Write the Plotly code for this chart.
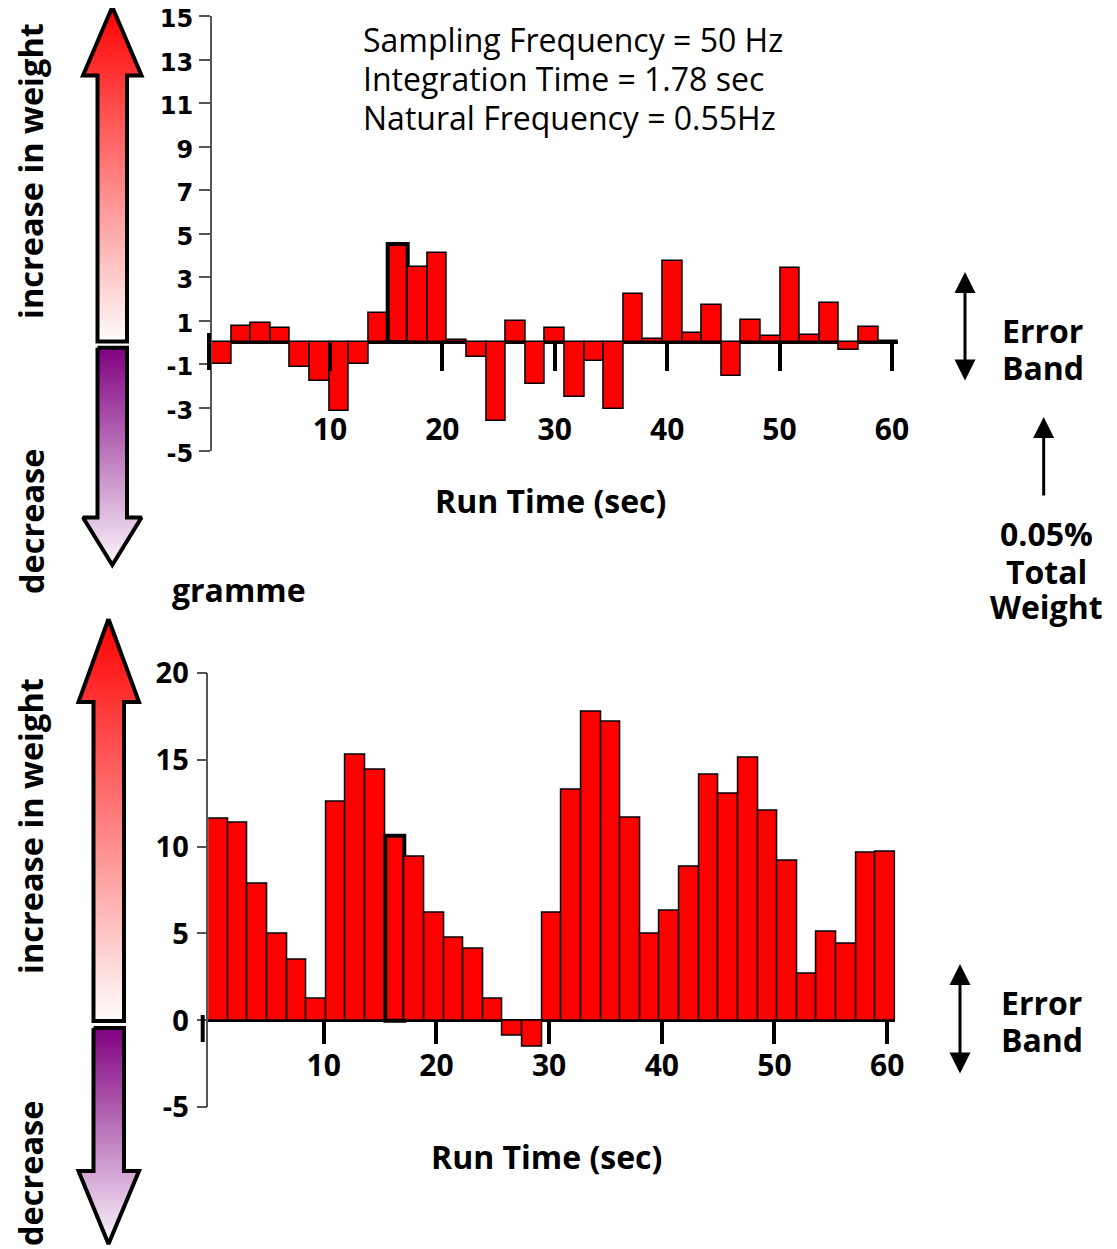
import plotly.graph_objects as go

# ---------------- data ----------------
bar_width_sec = 1.78
n_bars = 35
run_time = [(i + 0.5) * bar_width_sec for i in range(n_bars)]

top_values = [-1.0, 0.75, 0.9, 0.64, -1.13, -1.76, -3.16, -1.01, 1.33, 4.54,
              3.48, 4.12, 0.1, -0.69, -3.63, 0.98, -1.92, 0.67, -2.5, -0.87,
              -3.05, 2.21, 0.17, 3.72, 0.41, 1.7, -1.56, 1.04, 0.31, 3.4,
              0.34, 1.82, -0.35, 0.7, 0.05]
bottom_values = [11.6, 11.39, 7.86, 4.98, 3.49, 1.27, 12.57, 15.28, 14.4, 10.62,
                 9.39, 6.17, 4.77, 4.12, 1.23, -0.9, -1.53, 6.19, 13.26, 17.73,
                 17.21, 11.67, 4.96, 6.33, 8.86, 14.13, 13.05, 15.09, 12.04, 9.16,
                 2.7, 5.1, 4.39, 9.64, 9.7]
highlight_index = 9

top_yticks = [-5, -3, -1, 1, 3, 5, 7, 9, 11, 13, 15]
bottom_yticks = [-5, 0, 5, 10, 15, 20]
x_ticks = [10, 20, 30, 40, 50, 60]
info_lines = ["Sampling Frequency = 50 Hz", "Integration Time = 1.78 sec",
              "Natural Frequency = 0.55Hz"]

# ---------------- layout helpers ----------------
OFF = 8                      # page body margin
W, H = 1117, 1249
FW, FH = W - OFF, H - OFF    # figure size so the page does not overflow
def px(x):
    return (x - OFF) / FW
def py(y):
    return 1 - (y - OFF) / FH

BOLD = "Open Sans"
RED = "#ff0000"
BSIZE = 32

line_w = [1.5] * n_bars
line_w[highlight_index] = 4

fig = go.Figure()

fig.add_trace(go.Bar(x=run_time, y=top_values, width=bar_width_sec,
                     marker=dict(color=RED, line=dict(color="black", width=line_w)),
                     xaxis="x", yaxis="y", hoverinfo="skip", showlegend=False))
fig.add_trace(go.Bar(x=run_time, y=bottom_values, width=bar_width_sec,
                     marker=dict(color=RED, line=dict(color="black", width=line_w)),
                     xaxis="x2", yaxis="y2", hoverinfo="skip", showlegend=False))
# invisible helpers so the tick axes render
fig.add_trace(go.Scatter(x=x_ticks, y=[0] * len(x_ticks), mode="markers", opacity=0,
                         xaxis="x3", yaxis="y", hoverinfo="skip", showlegend=False))
fig.add_trace(go.Scatter(x=x_ticks, y=[0] * len(x_ticks), mode="markers", opacity=0,
                         xaxis="x4", yaxis="y2", hoverinfo="skip", showlegend=False))

# ---------------- gradient arrows (pixel axes) ----------------
def arrow_pair(cx_l, cx_r, tip_top, head_top, joint_a, joint_b, head_bot, tip_bot,
               hl, hr, tipx):
    up = dict(x=[tipx, hr, cx_r, cx_r, cx_l, cx_l, hl, tipx],
              y=[tip_top, head_top, head_top, joint_a, joint_a, head_top, head_top, tip_top])
    dn = dict(x=[cx_l, cx_r, cx_r, hr, tipx, hl, cx_l, cx_l],
              y=[joint_b, joint_b, head_bot, head_bot, tip_bot, head_bot, head_bot, joint_b])
    return up, dn

arrows = [
    arrow_pair(97.5, 127, 7, 75.5, 341.5, 347.7, 517.5, 565, 83, 141.5, 112.3),
    arrow_pair(93.5, 124, 619, 702, 1021, 1028, 1171, 1244, 78.5, 139, 108.5),
]
for up, dn in arrows:
    fig.add_trace(go.Scatter(
        x=up["x"], y=up["y"], mode="lines", fill="toself",
        fillgradient=dict(type="vertical",
                          colorscale=[[0, "rgb(255,0,0)"], [1, "rgb(255,252,252)"]],
                          start=min(up["y"]), stop=max(up["y"])),
        line=dict(color="black", width=4), xaxis="x5", yaxis="y5",
        hoverinfo="skip", showlegend=False))
    fig.add_trace(go.Scatter(
        x=dn["x"], y=dn["y"], mode="lines", fill="toself",
        fillgradient=dict(type="vertical",
                          colorscale=[[0, "rgb(128,0,128)"], [1, "rgb(252,246,252)"]],
                          start=min(dn["y"]), stop=max(dn["y"])),
        line=dict(color="black", width=4), xaxis="x5", yaxis="y5",
        hoverinfo="skip", showlegend=False))

hidden = dict(visible=False, showgrid=False, zeroline=False)

fig.update_layout(
    width=FW, height=FH,
    margin=dict(l=0, r=0, t=0, b=0, pad=0, autoexpand=False),
    paper_bgcolor="white", plot_bgcolor="rgba(0,0,0,0)",
    bargap=0, showlegend=False,
    xaxis=dict(domain=[px(211.7), px(898)], range=[0, n_bars * bar_width_sec],
               anchor="y", **hidden),
    yaxis=dict(domain=[py(451), py(16)], range=[-5, 15], anchor="x",
               tickvals=top_yticks, ticktext=[str(v) for v in top_yticks],
               ticks="outside", ticklen=11, tickwidth=1.5,
               tickcolor="#555", showline=True, linecolor="#555", linewidth=1.5,
               showgrid=False, zeroline=True, zerolinecolor="black", zerolinewidth=2.5,
               ticklabelstandoff=1, ticklabelshift=3, automargin=False,
               ticklabeloverflow="allow",
               tickfont=dict(family="DejaVu Sans", size=24, color="black", weight=700)),
    xaxis2=dict(domain=[px(208.3), px(895.3)], range=[0, n_bars * bar_width_sec],
                anchor="y2", **hidden),
    yaxis2=dict(domain=[py(1107.3), py(672.7)], range=[-5, 20], anchor="x2",
                tickvals=bottom_yticks, ticktext=[str(v) for v in bottom_yticks],
                ticks="outside", ticklen=10, tickwidth=1.5,
                tickcolor="#555", showline=True, linecolor="#555", linewidth=1.5,
                showgrid=False, zeroline=True, zerolinecolor="black", zerolinewidth=2.5,
                ticklabelstandoff=2, automargin=False, ticklabeloverflow="allow",
                tickfont=dict(family=BOLD, size=29, color="black", weight=700)),
    xaxis3=dict(overlaying="x", anchor="free", position=py(342.3),
                range=[-0.52, 60.54], tickvals=x_ticks, ticks="outside", ticklen=28,
                tickwidth=3.5, tickcolor="black", showline=False, showgrid=False,
                zeroline=False, ticklabelstandoff=33, automargin=False,
                tickfont=dict(family=BOLD, size=30, color="black", weight=700)),
    xaxis4=dict(overlaying="x2", anchor="free", position=py(1020.5),
                range=[-0.24, 60.72], tickvals=x_ticks, ticks="outside", ticklen=22,
                tickwidth=4, tickcolor="black", showline=False, showgrid=False,
                zeroline=False, ticklabelstandoff=-4, automargin=False,
                tickfont=dict(family=BOLD, size=30, color="black", weight=700)),
    xaxis5=dict(domain=[0, 1], range=[OFF, OFF + FW], anchor="y5", **hidden),
    yaxis5=dict(domain=[0, 1], range=[OFF + FH, OFF], anchor="x5", **hidden),
)

# first (unlabelled) thick ticks at the start of each time axis
fig.add_shape(type="line", xref="paper", yref="paper", x0=px(209), x1=px(209),
              y0=py(333), y1=py(370), line=dict(color="black", width=4))
fig.add_shape(type="line", xref="paper", yref="paper", x0=px(202.7), x1=px(202.7),
              y0=py(1015), y1=py(1042), line=dict(color="black", width=4))

def text(x, y, s, size=BSIZE, bold=True, xanchor="center", angle=0, family=BOLD):
    fig.add_annotation(x=px(x), y=py(y), xref="paper", yref="paper", text=s,
                       showarrow=False, xanchor=xanchor, yanchor="middle",
                       textangle=angle,
                       font=dict(family=family, size=size, color="black",
                                 weight=700 if bold else 400))

for i, line in enumerate(info_lines):
    text(361, 40 + i * 38.5, line, size=32, bold=False, xanchor="left")

text(550, 500, "Run Time (sec)")
text(546, 1156, "Run Time (sec)")
text(31, 171, "increase in weight", size=32.5, angle=-90)
text(31, 522, "decrease", size=32.5, angle=-90)
text(30, 826, "increase in weight", size=32.5, angle=-90)
text(30, 1174, "decrease", size=32.5, angle=-90)
text(239, 589, "gramme")

text(1000, 331, "Error", xanchor="left")
text(1000, 367, "Band", xanchor="left")
text(1046, 533, "0.05%")
text(1046, 571, "Total")
text(1046, 607, "Weight")
text(999, 1002, "Error", xanchor="left")
text(999, 1039, "Band", xanchor="left")

def arrow(x, y_head, y_tail, both=True):
    fig.add_annotation(x=px(x), y=py(y_head), xref="paper", yref="paper", text="",
                       showarrow=True, ax=0, ay=y_tail - y_head,
                       arrowhead=2, startarrowhead=2, arrowsize=1.4, startarrowsize=1.4,
                       arrowwidth=3, arrowcolor="black",
                       arrowside="end+start" if both else "end",
                       standoff=0, startstandoff=0)

arrow(965, 272, 382)
arrow(1043.7, 417, 497, both=False)
arrow(960, 964, 1075)

fig.write_html("out.html")
